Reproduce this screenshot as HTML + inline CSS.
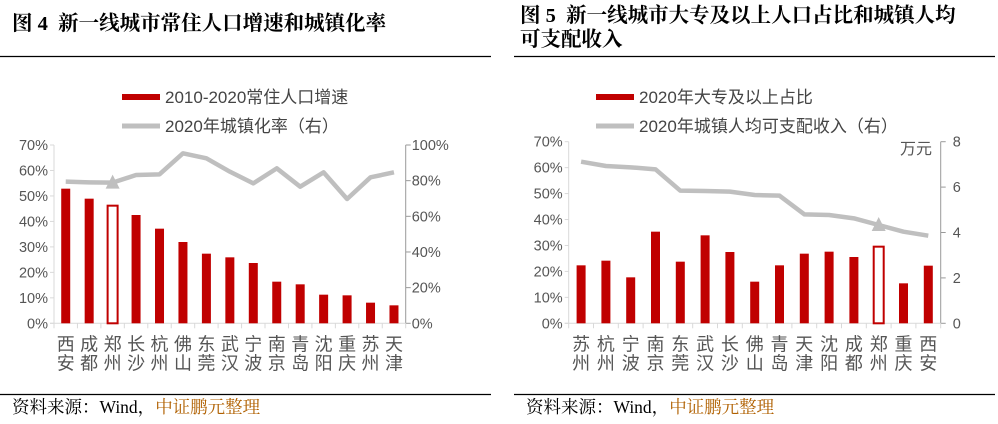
<!DOCTYPE html>
<html><head><meta charset="utf-8">
<style>
html,body{margin:0;padding:0;background:#fff;}
body{width:998px;height:424px;overflow:hidden;position:relative;}
svg{position:absolute;left:0;top:0;}
.t{font-family:"Liberation Serif","Noto Serif CJK SC",serif;font-weight:bold;font-size:20.5px;fill:#000;}
.a{font-family:"Liberation Sans","Noto Sans CJK SC",sans-serif;font-size:14.5px;fill:#555;}
.c{font-family:"Liberation Sans","Noto Sans CJK SC",sans-serif;font-size:18px;fill:#555;}
.l{font-family:"Liberation Sans","Noto Sans CJK SC",sans-serif;font-size:17px;fill:#444;}
.s{font-family:"Liberation Serif","Noto Serif CJK SC",serif;font-size:17.5px;}
</style></head><body>
<svg id="g" width="998" height="424" xmlns="http://www.w3.org/2000/svg">
<text class="t" x="12" y="30">图 4&#160; 新一线城市常住人口增速和城镇化率</text>
<line x1="0" y1="56.5" x2="491" y2="56.5" stroke="#000" stroke-width="1.2"/>
<text class="t" x="520" y="22">图 5&#160; 新一线城市大专及以上人口占比和城镇人均</text>
<text class="t" x="520" y="46">可支配收入</text>
<line x1="514" y1="56.5" x2="995" y2="56.5" stroke="#000" stroke-width="1.2"/>
<line x1="0" y1="394.5" x2="491" y2="394.5" stroke="#000" stroke-width="1.2"/>
<line x1="514" y1="394.5" x2="995" y2="394.5" stroke="#000" stroke-width="1.2"/>
<text class="s" x="12" y="413"><tspan fill="#000">资料来源：Wind，</tspan><tspan fill="#b06000">中证鹏元整理</tspan></text>
<text class="s" x="526" y="413"><tspan fill="#000">资料来源：Wind，</tspan><tspan fill="#b06000">中证鹏元整理</tspan></text>
<rect x="122" y="94" width="38" height="6" fill="#c00000"/>
<text class="l" x="165" y="103">2010-2020常住人口增速</text>
<line x1="122" y1="126" x2="160" y2="126" stroke="#bfbfbf" stroke-width="5"/>
<text class="l" x="165" y="132">2020年城镇化率（右）</text>
<rect x="596" y="94" width="38" height="6" fill="#c00000"/>
<text class="l" x="639" y="103">2020年大专及以上占比</text>
<line x1="596" y1="126" x2="634" y2="126" stroke="#bfbfbf" stroke-width="5"/>
<text class="l" x="639" y="132">2020年城镇人均可支配收入（右）</text>
</svg>
<script>
var NS="http://www.w3.org/2000/svg",g=document.getElementById('g');
function el(n,a,t){var e=document.createElementNS(NS,n);for(var k in a)e.setAttribute(k,a[k]);if(t!=null)e.textContent=t;g.appendChild(e);return e;}
function chart(o){
 var x0=o.x0,x1=o.x1,y0=o.y0,yt=o.yt,n=o.cats.length,st=(x1-x0)/n;
 el('line',{x1:x0,y1:yt,x2:x0,y2:y0,stroke:'#d9d9d9'});
 el('line',{x1:x1,y1:yt,x2:x1,y2:y0,stroke:'#999'});
 el('line',{x1:x0-4,y1:y0,x2:x1,y2:y0,stroke:'#d9d9d9'});
 for(var i=0;i<=7;i++){var y=y0-(y0-yt)*i/7;el('line',{x1:x0-4,y1:y,x2:x0,y2:y,stroke:'#d9d9d9'});
  el('text',{class:'a',x:x0-6,y:y+5,'text-anchor':'end'},(i*10)+'%');}
 for(var i=0;i<o.rt.length;i++){var y=y0-(y0-yt)*i/(o.rt.length-1);el('line',{x1:x1,y1:y,x2:x1+5,y2:y,stroke:'#999'});
  el('text',{class:'a',x:x1+o.rdx,y:y+5,'text-anchor':o.ranch},o.rt[i]);}
 for(var i=0;i<=n;i++){var x=x0+st*i;el('line',{x1:x,y1:y0,x2:x,y2:y0+5,stroke:'#d9d9d9'});}
 var pts=[];
 for(var i=0;i<n;i++){var cx=x0+st*(i+.5),top=o.bars[i];
  if(i==o.hi)el('rect',{x:cx-5,y:top,width:10,height:y0-top,fill:'#fff',stroke:'#c00000','stroke-width':2});
  else el('rect',{x:cx-4.5,y:top,width:9,height:y0-top,fill:'#c00000'});
  el('text',{class:'c',x:cx,y:y0+27,'text-anchor':'middle'},o.cats[i][0]);
  el('text',{class:'c',x:cx,y:y0+46,'text-anchor':'middle'},o.cats[i][1]);
  pts.push(cx+','+o.line[i]);}
 el('polyline',{points:pts.join(' '),fill:'none',stroke:'#bfbfbf','stroke-width':4.5,'stroke-linejoin':'round'});
 var hx=x0+st*(o.hi+.5),hy=o.line[o.hi];
 el('polygon',{points:(hx-7)+','+(hy+6)+' '+(hx+7)+','+(hy+6)+' '+hx+','+(hy-8),fill:'#bfbfbf'});
}
function z(a){return a.map(function(v){return 130+v/3;});}
chart({x0:54,x1:405.7,y0:323.3,yt:145,cats:['西安','成都','郑州','长沙','杭州','佛山','东莞','武汉','宁波','南京','青岛','沈阳','重庆','苏州','天津'],
 bars:z([176,206,227,255,296,336,371,382,399,455,463,494,496,518,526]),
 line:z([155,157,158,135,133,70,85,125,160,115,170,127,207,142,127]),hi:2,
 rt:['0%','20%','40%','60%','80%','100%'],rdx:6,ranch:'start'});
chart({x0:568.7,x1:940.7,y0:323.3,yt:141.7,cats:['苏州','杭州','宁波','南京','东莞','武汉','长沙','佛山','青岛','天津','沈阳','成都','郑州','重庆','西安'],
 bars:z([406,392,442,305,395,316,366,455,406,371,365,381,350,460,407]),
 line:z([95,108,112,118,182,183,185,195,197,253,255,265,285,305,317]),hi:12,
 rt:['0','2','4','6','8'],rdx:12,ranch:'start'});
el('text',{class:'a',x:932,y:154,'text-anchor':'end',style:'font-size:16px'},'万元');
</script>
</body></html>
